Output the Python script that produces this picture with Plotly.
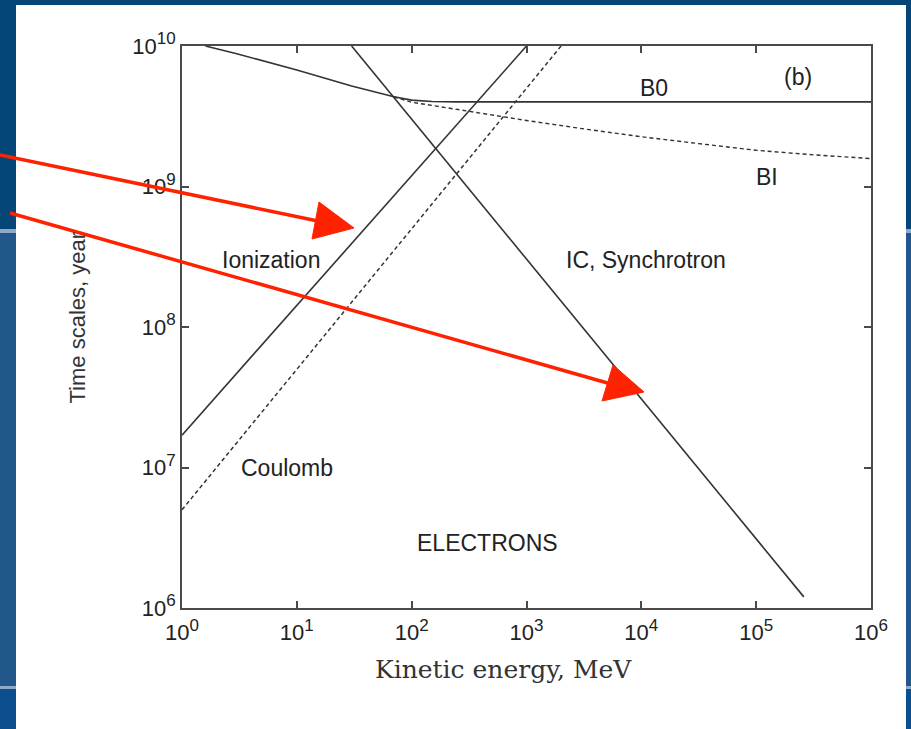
import math
import plotly.graph_objects as go

# ---- data: time scales (years) vs kinetic energy (MeV) for electrons ----
ion_E = [1.0, 1.0e3]
ion_t = [1.7e7, 1.0e10]

coul_E = [1.0, 2.0e3]
coul_t = [5.0e6, 1.0e10]

ic_E = [30.0, 2.6e5]
ic_t = [1.0e10, 1.2e6]

b0_E = [1.6, 3.0, 10.0, 30.0, 70.0, 100.0, 150.0, 250.0, 1.0e6]
b0_t = [1.0e10, 8.8e9, 6.75e9, 5.2e9, 4.35e9, 4.12e9, 4.03e9, 4.0e9, 4.0e9]

bi_E = [70.0, 100.0, 316.0, 1.0e3, 3.16e3, 1.0e4, 3.16e4, 1.0e5, 3.16e5, 1.0e6]
bi_t = [4.35e9, 3.98e9, 3.43e9, 2.95e9, 2.57e9, 2.26e9, 2.02e9, 1.81e9, 1.68e9, 1.58e9]

x_ticks = [1e0, 1e1, 1e2, 1e3, 1e4, 1e5, 1e6]
x_exps = ["0", "1", "2", "3", "4", "5", "6"]
y_ticks = [1e6, 1e7, 1e8, 1e9, 1e10]
y_exps = ["6", "7", "8", "9", "10"]

labels = [
    ("B0", 1.3e4, 5.0e9),
    ("(b)", 2.3e5, 6.0e9),
    ("BI", 1.25e5, 1.17e9),
    ("Ionization", 5.9, 3.0e8),
    ("IC, Synchrotron", 1.1e4, 3.0e8),
    ("Coulomb", 8.2, 1.0e7),
    ("ELECTRONS", 4.6e2, 2.9e6),
]

W, H = 911, 729
L, R, T, B = 182, 871, 46, 608

LINE = "#333333"
TXT = "#222222"
SANS = "Liberation Sans, Arial, sans-serif"
SERIF = "DejaVu Serif, Liberation Serif, serif"


def power_label(exp):
    return "10<sup><span style='font-size:17px'>{}</span></sup>".format(exp)


fig = go.Figure()
fig.add_trace(go.Scatter(x=ion_E, y=ion_t, mode="lines", line=dict(color=LINE, width=1.6)))
fig.add_trace(go.Scatter(x=coul_E, y=coul_t, mode="lines", line=dict(color=LINE, width=1.5, dash="4px,3px")))
fig.add_trace(go.Scatter(x=ic_E, y=ic_t, mode="lines", line=dict(color=LINE, width=1.6)))
fig.add_trace(go.Scatter(x=b0_E, y=b0_t, mode="lines", line=dict(color=LINE, width=1.6)))
fig.add_trace(go.Scatter(x=bi_E, y=bi_t, mode="lines", line=dict(color=LINE, width=1.4, dash="4px,3px")))

# curve labels (annotation positions on log axes are given in log10 units)
for txt, x, y in labels:
    fig.add_annotation(x=math.log10(x), y=math.log10(y), xref="x", yref="y", text=txt,
                       showarrow=False, font=dict(family=SANS, size=23, color=TXT))


def P(px, py):
    """pixel position on the page -> paper coordinates"""
    return (px - L) / (R - L), (B - py) / (B - T)


def rect(x0, y0, x1, y1, color, layer="below"):
    a, b = P(x0, y1)
    c, d = P(x1, y0)
    fig.add_shape(type="rect", xref="paper", yref="paper", x0=a, y0=b, x1=c, y1=d,
                  fillcolor=color, line=dict(width=0), layer=layer)


# slide background and white card
rect(0, 233, 16, 686, "#22578c")
rect(906, 233, 911, 686, "#22578c")
rect(0, 229, 16, 233, "#8fa9c8")
rect(906, 229, 911, 233, "#8fa9c8")
rect(0, 686, 16, 689, "#8fa9c8")
rect(906, 686, 911, 689, "#8fa9c8")
rect(0, 689, 16, 729, "#0c4f8c")
rect(906, 689, 911, 729, "#0c4f8c")
rect(16, 5, 906, 729, "#ffffff")


def arrow(x0, y0, tip, b1, b2, color="#ff2200"):
    bx, by = (b1[0] + b2[0]) / 2, (b1[1] + b2[1]) / 2
    s = P(x0, y0)
    e = P(bx, by)
    fig.add_shape(type="line", xref="paper", yref="paper", x0=s[0], y0=s[1], x1=e[0], y1=e[1],
                  line=dict(color=color, width=3.5), layer="above")
    pts = [P(*b1), P(*tip), P(*b2)]
    path = "M {} {} L {} {} L {} {} Z".format(pts[0][0], pts[0][1], pts[1][0], pts[1][1],
                                              pts[2][0], pts[2][1])
    fig.add_shape(type="path", xref="paper", yref="paper", path=path,
                  fillcolor=color, line=dict(color=color, width=1), layer="above")


arrow(0, 155, (354, 228), (319, 202), (312, 239))
arrow(10, 213, (644, 392), (613, 365), (602, 401))

# axis titles
tx, ty = P(503, 686)
fig.add_annotation(x=tx, y=ty, xref="paper", yref="paper", text="Kinetic energy, MeV",
                   showarrow=False, font=dict(family=SERIF, size=25, color="#333333"))
tx, ty = P(62, 318)
fig.add_annotation(x=tx, y=ty, xref="paper", yref="paper", text="Time scales, year",
                   textangle=-90, showarrow=False, font=dict(family=SANS, size=22, color="#333333"))

tick_font = dict(family=SANS, size=22, color=TXT)

fig.update_xaxes(type="log", range=[0, 6], tickvals=x_ticks,
                 ticktext=[power_label(e) for e in x_exps],
                 showgrid=False, zeroline=False, showline=True, linecolor="#4a4a4a", linewidth=2,
                 mirror="ticks", ticks="inside", ticklen=7, tickwidth=1.5, tickcolor="#4a4a4a",
                 tickfont=tick_font, ticklabelstandoff=4)
fig.update_yaxes(type="log", range=[6, 10], tickvals=y_ticks,
                 ticktext=[power_label(e) for e in y_exps],
                 showgrid=False, zeroline=False, showline=True, linecolor="#4a4a4a", linewidth=2,
                 mirror="ticks", ticks="inside", ticklen=7, tickwidth=1.5, tickcolor="#4a4a4a",
                 tickfont=tick_font)

fig.update_layout(
    width=W, height=H, showlegend=False,
    margin=dict(l=L, r=W - R, t=T, b=H - B, autoexpand=False),
    paper_bgcolor="#054679", plot_bgcolor="rgba(0,0,0,0)",
)

fig.write_html("out.html")
